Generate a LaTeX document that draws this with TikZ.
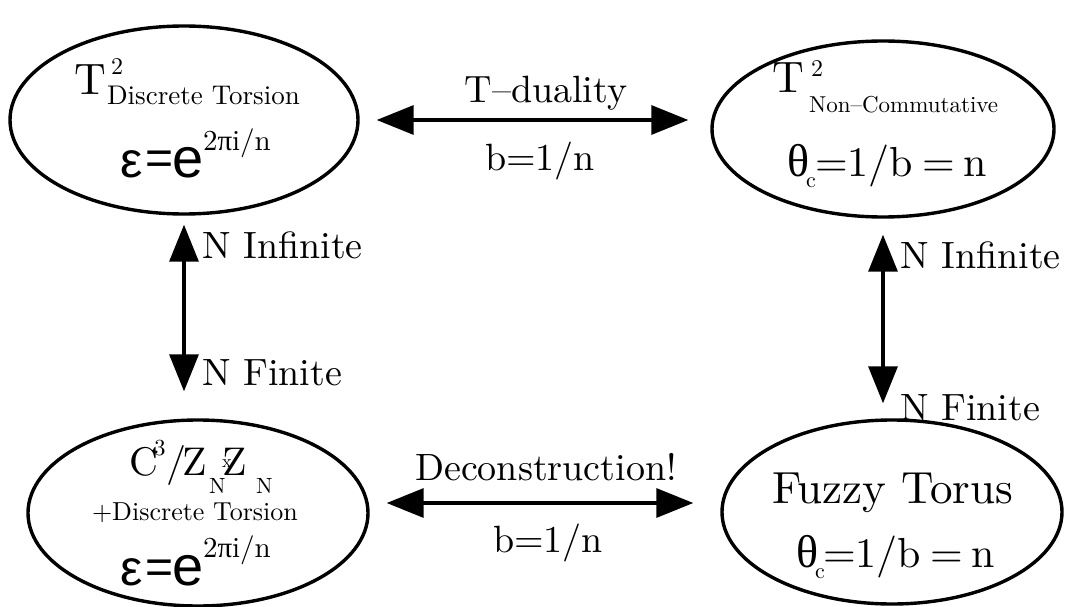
\documentclass[tikz,border=0pt]{standalone}
\usepackage{fontspec}
\setmainfont{lmroman10-regular.otf}
\usetikzlibrary{shapes.geometric,arrows.meta}
\newfontfamily\grk{Liberation Serif}
\newfontfamily\sansf{Liberation Sans}
\newcommand\fsz[1]{\fontsize{#1}{#1}\selectfont}
\begin{document}
\begin{tikzpicture}[x=1pt,y=-1pt,
  ell/.style={ellipse,draw,line width=3.4pt,inner sep=0pt},
  txt/.style={anchor=base west,inner sep=0pt,outer sep=0pt},
  lab/.style={anchor=base,inner sep=0pt,font=\fsz{38}},
  labw/.style={anchor=base west,inner sep=0pt,font=\fsz{38}},
  dbl/.style={line width=3.3pt,{Triangle[length=37pt,width=29pt]}-{Triangle[length=37pt,width=29pt]}}]
\useasboundingbox (0,0) rectangle (1068,607);
% ellipses
\node[ell,minimum width=348pt,minimum height=188pt] (TL) at (184,120) {};
\node[ell,minimum width=342pt,minimum height=176pt] (TR) at (883,129) {};
\node[ell,minimum width=340pt,minimum height=186pt] (BL) at (198,513) {};
\node[ell,minimum width=340pt,minimum height=184pt] (BR) at (892,512) {};
% TL text
\node[txt] (tlT) at (74,95) {\fsz{44}T};
\node[txt] (tl2) at (111,75) {\fsz{24}2};
\node[txt] (tlsub) at (107,105) {\fsz{27}Discrete Torsion};
\node[txt] (tleps) at (120,177) {\sansf\fsz{50}ε};
\node[txt] (tleq) at (145,175) {\sansf\fsz{48}=};
\node[txt] (tle) at (172,177) {\sansf\fsz{56}e};
\node[txt] (tlexp) at (203,150) {\fsz{29}2{\grk π}i/n};
% TR text
\node[txt] (trT) at (772,93) {\fsz{44}T};
\node[txt] (tr2) at (811,77) {\fsz{24}2};
\node[txt] (trsub) at (809,113) {\fsz{23}Non–Commutative};
\node[txt] (trth) at (787,176) {\grk\fsz{46}θ};
\node[txt] (trc) at (806,187) {\fsz{22}c};
\node[txt] (treq) at (815,176) {\fsz{42}=1/b\kern9pt=\kern9pt n};
% BL text
\node[txt] (blC) at (129,475) {\fsz{40}C};
\node[txt] (bl3) at (154,455) {\fsz{23}3};
\node[txt] (blsl) at (166,475) {\fsz{40}/};
\node[txt] (blZa) at (182,475) {\fsz{40}Z};
\node[txt] (blNa) at (209,493) {\fsz{22}N};
\node[txt] (blZb) at (222,475) {\fsz{40}Z};
\node[txt] (blx) at (222,467) {\fsz{18}x};
\node[txt] (blNb) at (256,493) {\fsz{22}N};
\node[txt] (blsub) at (92,520) {\fsz{26}+Discrete Torsion};
\node[txt] (bleps) at (120,585) {\sansf\fsz{50}ε};
\node[txt] (bleq) at (145,583) {\sansf\fsz{48}=};
\node[txt] (ble) at (172,585) {\sansf\fsz{56}e};
\node[txt] (blexp) at (203,557) {\fsz{29}2{\grk π}i/n};
% BR text
\node[txt] (brF) at (772,503) {\fsz{45}Fuzzy Torus};
\node[txt] (brth) at (796,567) {\grk\fsz{46}θ};
\node[txt] (brc) at (815,578) {\fsz{22}c};
\node[txt] (breq) at (823,567) {\fsz{42}=1/b\kern9pt=\kern9pt n};
% connectors
\draw[dbl,shorten <=17pt,shorten >=22pt] (TL.east) -- (TL.east -| TR.west);
\draw[dbl,shorten <=17pt,shorten >=27pt] ([yshift=10pt]BL.east) -- ([yshift=10pt]BL.east -| BR.west);
\draw[dbl,shorten <=9pt,shorten >=27pt] (TL.south) -- (TL.south |- BL.north);
\draw[dbl,shorten <=16pt,shorten >=15pt] (TR.south) -- (TR.south |- BR.north);
% labels
\node[lab] (l1) at (546,103) {T–duality};
\node[lab] (l2) at (540,170) {b=1/n};
\node[lab] (l3) at (546,480) {Deconstruction!};
\node[lab] (l4) at (548,552) {b=1/n};
\node[labw] (l5) at (202,258) {N Infinite};
\node[labw] (l6) at (202,385) {N Finite};
\node[labw] (l7) at (900,268) {N Infinite};
\node[labw] (l8) at (900,420) {N Finite};
\end{tikzpicture}
\end{document}
